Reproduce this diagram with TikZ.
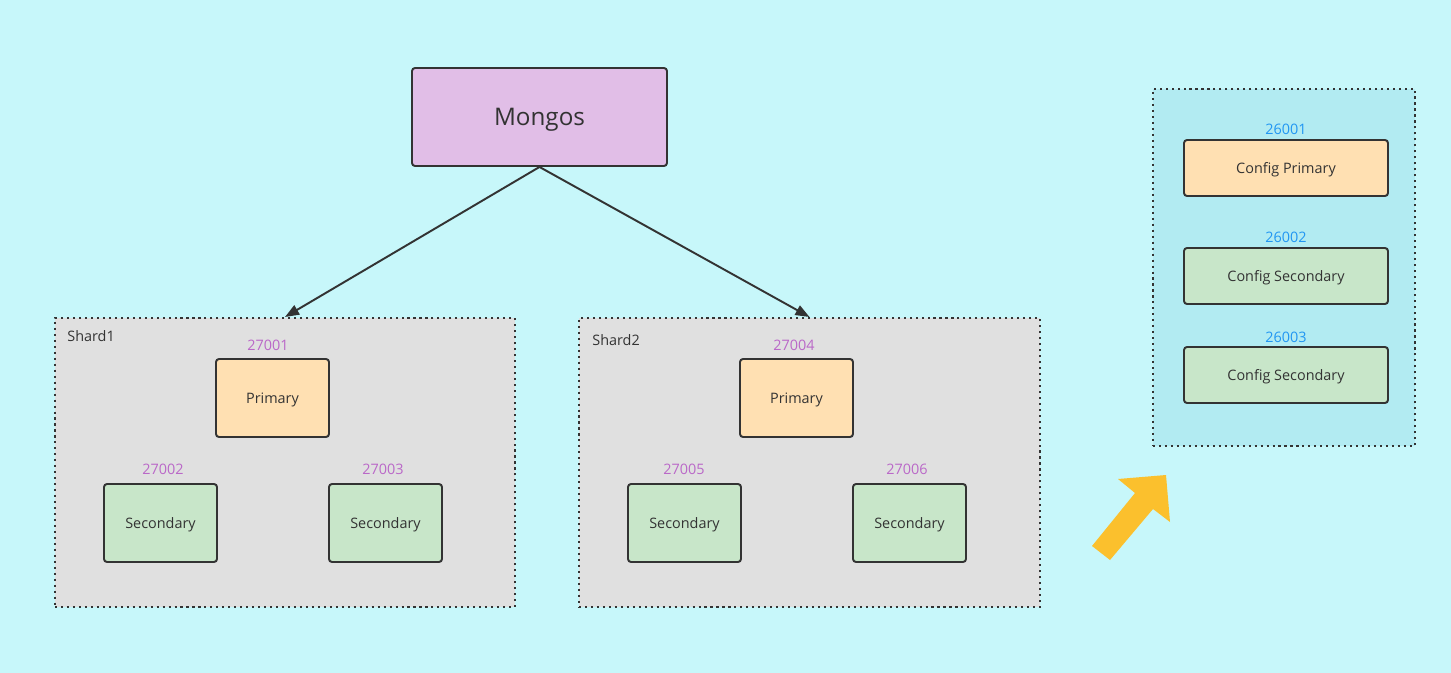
\documentclass[tikz,border=0pt]{standalone}
\usepackage{fontspec}
\setmainfont{Open Sans}
\usetikzlibrary{arrows.meta,positioning}
\definecolor{canvas}{HTML}{C7F7FA}
\definecolor{routerFill}{HTML}{E1BEE7}
\definecolor{primFill}{HTML}{FFE0B2}
\definecolor{secFill}{HTML}{C8E6C9}
\definecolor{shardFill}{HTML}{E0E0E0}
\definecolor{cfgFill}{HTML}{B2EBF2}
\definecolor{portA}{HTML}{BA68C8}
\definecolor{portB}{HTML}{2196F3}
\definecolor{frameline}{HTML}{333333}
\definecolor{hint}{HTML}{FBC02D}
\begin{document}
\begin{tikzpicture}[x=0.02cm,y=-0.02cm,font=\fontsize{8.2}{9.8}\selectfont,text=frameline,
box/.style={draw=frameline,fill=#1,rounded corners=1.7pt,line width=1.1pt,minimum width=2.26cm,minimum height=1.56cm,inner sep=0pt,text depth=0pt},
cfg/.style={box=#1,minimum width=4.08cm,minimum height=1.12cm},
group/.style={draw=frameline,fill=#1,dash pattern=on 1.2pt off 2.2pt,line width=1.2pt,inner sep=0pt},
port/.style={text=#1,inner sep=0pt},
arrow/.style={-{Triangle[length=8pt,width=6pt]},line width=1.1pt,draw=frameline}]
\fill[canvas] (0,0) rectangle (1451,673);
\useasboundingbox (0,0) rectangle (1451,673);
% router
\node[box=routerFill,minimum width=5.1cm,minimum height=1.96cm,font=\fontsize{13.8}{16}\selectfont] (mongos) at (539.5,117) {Mongos};
% shards
\node[group=shardFill,minimum width=9.2cm,minimum height=5.78cm] (shard1) at (285,462.5) {};
\node[group=shardFill,minimum width=9.22cm,minimum height=5.78cm] (shard2) at (809.5,462.5) {};
\node[anchor=west,inner sep=0pt] (s1name) at (67,336) {Shard1};
\node[anchor=west,inner sep=0pt] (s2name) at (592,340) {Shard2};
\draw[arrow] (mongos.south)--(shard1.north);
\draw[arrow] (mongos.south)--(shard2.north);
\node[box=primFill] (p1) at (272.5,398) {Primary};
\node[box=secFill] (s11) at (160.5,523) {Secondary};
\node[box=secFill] (s12) at (385.5,523) {Secondary};
\node[port=portA] (n27001) at (268,345) {27001};
\node[port=portA] (n27002) at (163,469) {27002};
\node[port=portA] (n27003) at (383,469) {27003};
\node[box=primFill] (p2) at (796.5,398) {Primary};
\node[box=secFill] (s21) at (684.5,523) {Secondary};
\node[box=secFill] (s22) at (909.5,523) {Secondary};
\node[port=portA] (n27004) at (794,345) {27004};
\node[port=portA] (n27005) at (684,469) {27005};
\node[port=portA] (n27006) at (907,469) {27006};
% config servers
\node[group=cfgFill,minimum width=5.24cm,minimum height=7.14cm] (config) at (1284,267.5) {};
\node[cfg=primFill] (c1) at (1286,168) {Config Primary};
\node[cfg=secFill] (c2) at (1286,276) {Config Secondary};
\node[cfg=secFill] (c3) at (1286,375) {Config Secondary};
\node[port=portB] (n26001) at (1286,129) {26001};
\node[port=portB] (n26002) at (1286,237) {26002};
\node[port=portB] (n26003) at (1286,337) {26003};
% pointer
\fill[hint] (1166,475)--(1118,479)--(1135,493)--(1092,546)--(1110,560)--(1153,509)--(1170,522)--cycle;
\end{tikzpicture}
\end{document}
